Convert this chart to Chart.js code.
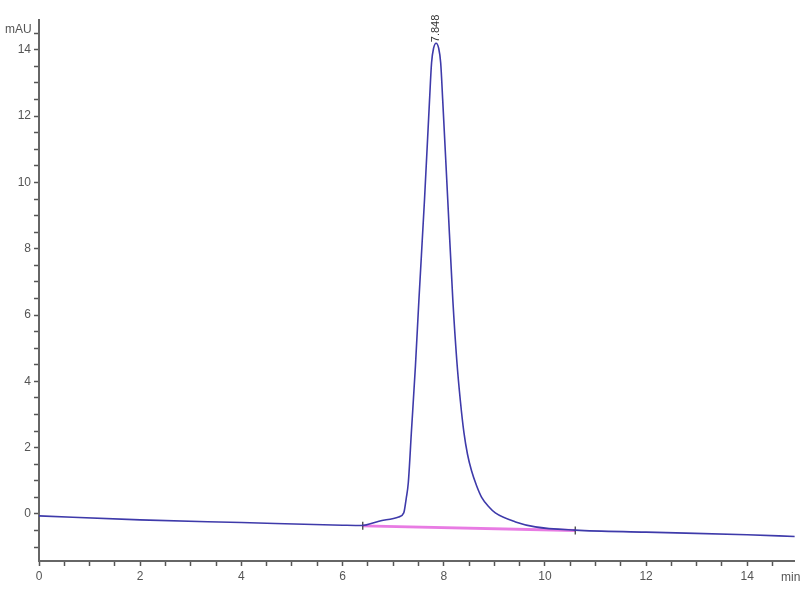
<!DOCTYPE html>
<html>
<head>
<meta charset="utf-8">
<script src="https://cdn.jsdelivr.net/npm/chart.js@4/dist/chart.umd.min.js"></script>
<style>
  html, body { margin: 0; padding: 0; background: #fff; }
  #wrap { width: 800px; height: 600px; }
</style>
</head>
<body>
<div id="wrap"><canvas id="myChart" width="800" height="600"></canvas></div>
<script>
// chromatogram trace (min, mAU)
const timeMin = [0, 2, 4, 6, 6.38, 6.72, 7.11, 7.21, 7.26, 7.30, 7.36, 7.44, 7.51, 7.62, 7.72, 7.76, 7.80, 7.85,
                 7.90, 7.94, 7.98, 8.08, 8.18, 8.26, 8.33, 8.40, 8.47, 8.55, 8.65, 8.75, 8.90, 9.02, 9.42, 9.81, 10.6, 12, 14, 14.94];
const signal = [-0.06, -0.18, -0.26, -0.34, -0.35, -0.22, -0.09, 0.03, 0.48, 0.94, 2.44, 4.44, 6.46, 9.47, 12.49, 13.61, 14.05, 14.2,
                14.05, 13.61, 12.49, 9.47, 6.46, 4.6, 3.4, 2.45, 1.8, 1.3, 0.85, 0.5, 0.2, 0.03, -0.24, -0.39, -0.49, -0.55, -0.63, -0.68];

// integration baseline
const baseTime = [6.4, 10.6];
const baseVal = [-0.36, -0.5];

// peak label
const peakTime = 7.848;
const peakLabel = '7.848';

const xMin = 0, xMax = 14.94, yMin = -1.42, yMax = 14.9;

const labelFont = { family: "'Liberation Sans Narrow', 'Arial Narrow', 'Liberation Sans', sans-serif", size: 12 };

function halfTicks(scale) {
    const ticks = [];
    for (let v = Math.ceil(scale.min * 2) / 2; v <= scale.max + 1e-9; v += 0.5) {
        ticks.push({ value: v });
    }
    scale.ticks = ticks;
}

const extras = {
    id: 'extras',
    afterDraw(chart) {
        const ctx = chart.ctx;
        const x = chart.scales.x, y = chart.scales.y;
        ctx.save();
        ctx.fillStyle = '#555';
        ctx.font = "12px " + labelFont.family;
        ctx.textAlign = 'left';
        ctx.textBaseline = 'middle';
        ctx.fillText('mAU', 5, 30);
        ctx.fillText('min', 781, 578);
        // peak label, rotated
        const px = x.getPixelForValue(peakTime);
        const py = y.getPixelForValue(14.2);
        ctx.translate(px, py - 1);
        ctx.rotate(-Math.PI / 2);
        ctx.fillStyle = '#333';
        ctx.font = "11px " + labelFont.family;
        ctx.textAlign = 'left';
        ctx.fillText(peakLabel, 0, 0);
        ctx.restore();
    }
};

const ctx = document.getElementById('myChart').getContext('2d');
new Chart(ctx, {
    type: 'line',
    data: {
        datasets: [
            {
                label: 'Signal',
                data: timeMin.map((t, i) => ({ x: t, y: signal[i] })),
                borderColor: 'rgb(62, 58, 170)',
                borderWidth: 1.6,
                pointRadius: 0,
                cubicInterpolationMode: 'monotone',
                order: 0
            },
            {
                label: 'Baseline',
                data: baseTime.map((t, i) => ({ x: t, y: baseVal[i] })),
                borderColor: 'rgba(228, 100, 222, 0.85)',
                borderWidth: 2.8,
                pointStyle: 'line',
                pointRotation: 90,
                pointRadius: 4,
                pointBorderColor: '#333',
                pointBorderWidth: 1.2,
                order: 1
            }
        ]
    },
    options: {
        responsive: false,
        animation: false,
        layout: { padding: { top: 20, right: 3, left: 0, bottom: 0 } },
        plugins: { legend: { display: false }, tooltip: { enabled: false } },
        scales: {
            x: {
                type: 'linear',
                min: xMin,
                max: xMax,
                afterBuildTicks: halfTicks,
                afterFit(scale) { scale.height = 39; },
                grid: { drawOnChartArea: false, drawTicks: true, tickLength: 5, color: '#555', tickWidth: 1.5 },
                border: { display: true, color: '#666', width: 2 },
                ticks: {
                    autoSkip: false,
                    maxRotation: 0,
                    padding: 3,
                    color: '#555',
                    font: labelFont,
                    callback: v => (Math.abs(v % 2) < 1e-9 ? v : '')
                }
            },
            y: {
                type: 'linear',
                min: yMin,
                max: yMax,
                afterBuildTicks: halfTicks,
                afterFit(scale) { scale.width = 39; },
                grid: { drawOnChartArea: false, drawTicks: true, tickLength: 5, color: '#555', tickWidth: 1.5 },
                border: { display: true, color: '#666', width: 2 },
                ticks: {
                    autoSkip: false,
                    padding: 3,
                    color: '#555',
                    font: labelFont,
                    callback: v => (Math.abs(v % 2) < 1e-9 ? v : '')
                }
            }
        }
    },
    plugins: [extras]
});
</script>
</body>
</html>
